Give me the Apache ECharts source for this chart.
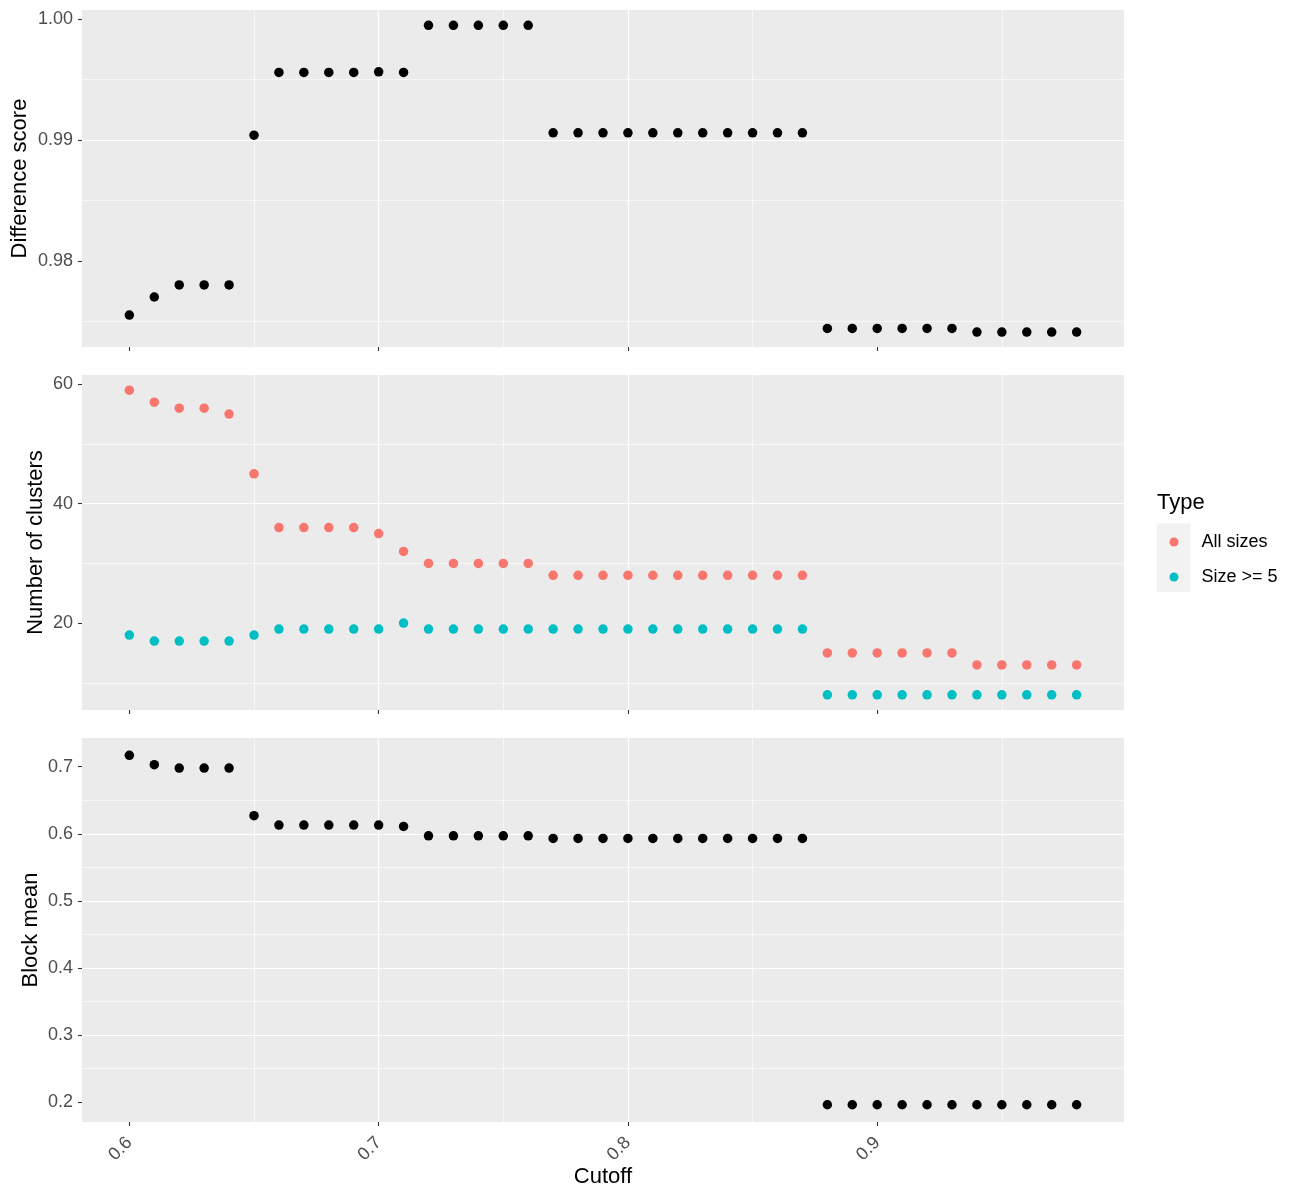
<!DOCTYPE html>
<html><head><meta charset="utf-8">
<script src="https://cdn.jsdelivr.net/npm/echarts@6/dist/echarts.min.js"></script>
<style>html,body{margin:0;padding:0;background:#fff}#c{width:1300px;height:1200px}</style>
</head><body><div id="c"></div>
<script>
const cutoffs = [0.60,0.61,0.62,0.63,0.64,0.65,0.66,0.67,0.68,0.69,0.70,0.71,0.72,0.73,0.74,0.75,0.76,0.77,0.78,0.79,0.80,0.81,0.82,0.83,0.84,0.85,0.86,0.87,0.88,0.89,0.90,0.91,0.92,0.93,0.94,0.95,0.96,0.97,0.98];
const diffScore = [0.9755,0.9770,0.9780,0.9780,0.9780,0.9904,0.9956,0.9956,0.9956,0.9956,0.99565,0.9956,0.9995,0.9995,0.9995,0.9995,0.9995,0.9906,0.9906,0.9906,0.9906,0.9906,0.9906,0.9906,0.9906,0.9906,0.9906,0.9906,0.9744,0.9744,0.9744,0.9744,0.9744,0.9744,0.9741,0.9741,0.9741,0.9741,0.9741];
const clustersAll = [59,57,56,56,55,45,36,36,36,36,35,32,30,30,30,30,30,28,28,28,28,28,28,28,28,28,28,28,15,15,15,15,15,15,13,13,13,13,13];
const clustersBig = [18,17,17,17,17,18,19,19,19,19,19,20,19,19,19,19,19,19,19,19,19,19,19,19,19,19,19,19,8,8,8,8,8,8,8,8,8,8,8];
const blockMean = [0.717,0.703,0.698,0.698,0.698,0.627,0.613,0.613,0.613,0.613,0.613,0.611,0.597,0.597,0.597,0.597,0.597,0.593,0.593,0.593,0.593,0.593,0.593,0.593,0.593,0.593,0.593,0.593,0.196,0.196,0.196,0.196,0.196,0.196,0.196,0.196,0.196,0.196,0.196];
const xTicks = [0.6,0.7,0.8,0.9];
const yTicks1 = [0.98,0.99,1.00];
const yTicks2 = [20,40,60];
const yTicks3 = [0.2,0.3,0.4,0.5,0.6,0.7];
const seriesNames = ['All sizes','Size >= 5'];

const FONT = 'Liberation Sans';
const TICK_FS = 18, TITLE_FS = 22;
const pair = ys => cutoffs.map((x,i)=>[x, ys[i]]);
const chart = echarts.init(document.getElementById('c'));

const grids = [
  {left:82, top:10, width:1042, height:337},
  {left:82, top:375, width:1042, height:335},
  {left:82, top:738, width:1042, height:384}
].map(g => Object.assign(g, {show:true, backgroundColor:'#EBEBEB', borderWidth:0, containLabel:false, outerBoundsMode:'none'}));

function xAxis(i){
  return {
    type:'value', gridIndex:i, min:0.581, max:0.999, splitNumber:4,
    axisLine:{show:false},
    axisTick:{show:true, length:4, customValues:xTicks, lineStyle:{color:'#333333', width:1.1}},
    axisLabel:{show:i===2, customValues:xTicks, rotate:45, margin:18, color:'#4D4D4D', fontSize:TICK_FS, fontFamily:FONT, formatter:v=>String(v)},
    splitLine:{show:true, showMinLine:false, showMaxLine:false, lineStyle:{color:'#FFFFFF', width:1.2}},
    minorTick:{show:false, splitNumber:2},
    minorSplitLine:{show:true, lineStyle:{color:'#FFFFFF', width:0.6}},
    name: i===2 ? 'Cutoff' : '', nameLocation:'middle', nameGap:44, nameMoveOverlap:false,
    nameTextStyle:{color:'#000', fontSize:TITLE_FS, fontFamily:FONT}
  };
}
function yAxis(i, min, max, split, ticks, fmt, name, gap){
  return {
    type:'value', gridIndex:i, min:min, max:max, splitNumber:split,
    axisLine:{show:false},
    axisTick:{show:true, length:4, customValues:ticks, lineStyle:{color:'#333333', width:1.1}},
    axisLabel:{customValues:ticks, margin:9, color:'#4D4D4D', fontSize:TICK_FS, fontFamily:FONT, formatter:fmt},
    splitLine:{show:true, showMinLine:false, showMaxLine:false, lineStyle:{color:'#FFFFFF', width:1.2}},
    minorTick:{show:false, splitNumber:2},
    minorSplitLine:{show:true, lineStyle:{color:'#FFFFFF', width:0.6}},
    name:name, nameLocation:'middle', nameGap:gap, nameMoveOverlap:false,
    nameTextStyle:{color:'#000', fontSize:TITLE_FS, fontFamily:FONT}
  };
}

const option = {
  animation:false,
  backgroundColor:'#FFFFFF',
  textStyle:{fontFamily:FONT},
  title:{text:'Type', left:1157, top:492, padding:0, textStyle:{fontSize:TITLE_FS, fontWeight:'normal', color:'#000', fontFamily:FONT}},
  graphic:[{type:'rect', left:1157, top:523.5, z:-10, shape:{width:33.5, height:68.5}, style:{fill:'#F2F2F2'}}],
  legend:{
    data:seriesNames, orient:'vertical', left:1169.5, top:533, padding:0,
    itemWidth:9, itemHeight:9, itemGap:17, icon:'circle',
    textStyle:{fontSize:TICK_FS, color:'#000', fontFamily:FONT, lineHeight:18, padding:[0,0,0,18]},
    selectedMode:false
  },
  grid:grids,
  xAxis:[xAxis(0), xAxis(1), xAxis(2)],
  yAxis:[
    yAxis(0, 0.97286, 1.00077, 3, yTicks1, v=>v.toFixed(2), 'Difference score', 51),
    yAxis(1, 5.45, 61.55, 3, yTicks2, v=>String(v), 'Number of clusters', 35),
    yAxis(2, 0.1703, 0.7428, 6, yTicks3, v=>v.toFixed(1), 'Block mean', 40)
  ],
  series:[
    {type:'scatter', name:'Difference', xAxisIndex:0, yAxisIndex:0, data:pair(diffScore), symbolSize:9.5, itemStyle:{color:'#000000', opacity:1}},
    {type:'scatter', name:seriesNames[0], xAxisIndex:1, yAxisIndex:1, data:pair(clustersAll), symbolSize:9.5, itemStyle:{color:'#F8766D', opacity:1}},
    {type:'scatter', name:seriesNames[1], xAxisIndex:1, yAxisIndex:1, data:pair(clustersBig), symbolSize:9.5, itemStyle:{color:'#00BFC4', opacity:1}},
    {type:'scatter', name:'Block', xAxisIndex:2, yAxisIndex:2, data:pair(blockMean), symbolSize:9.5, itemStyle:{color:'#000000', opacity:1}}
  ]
};
chart.setOption(option);
</script>
</body></html>
